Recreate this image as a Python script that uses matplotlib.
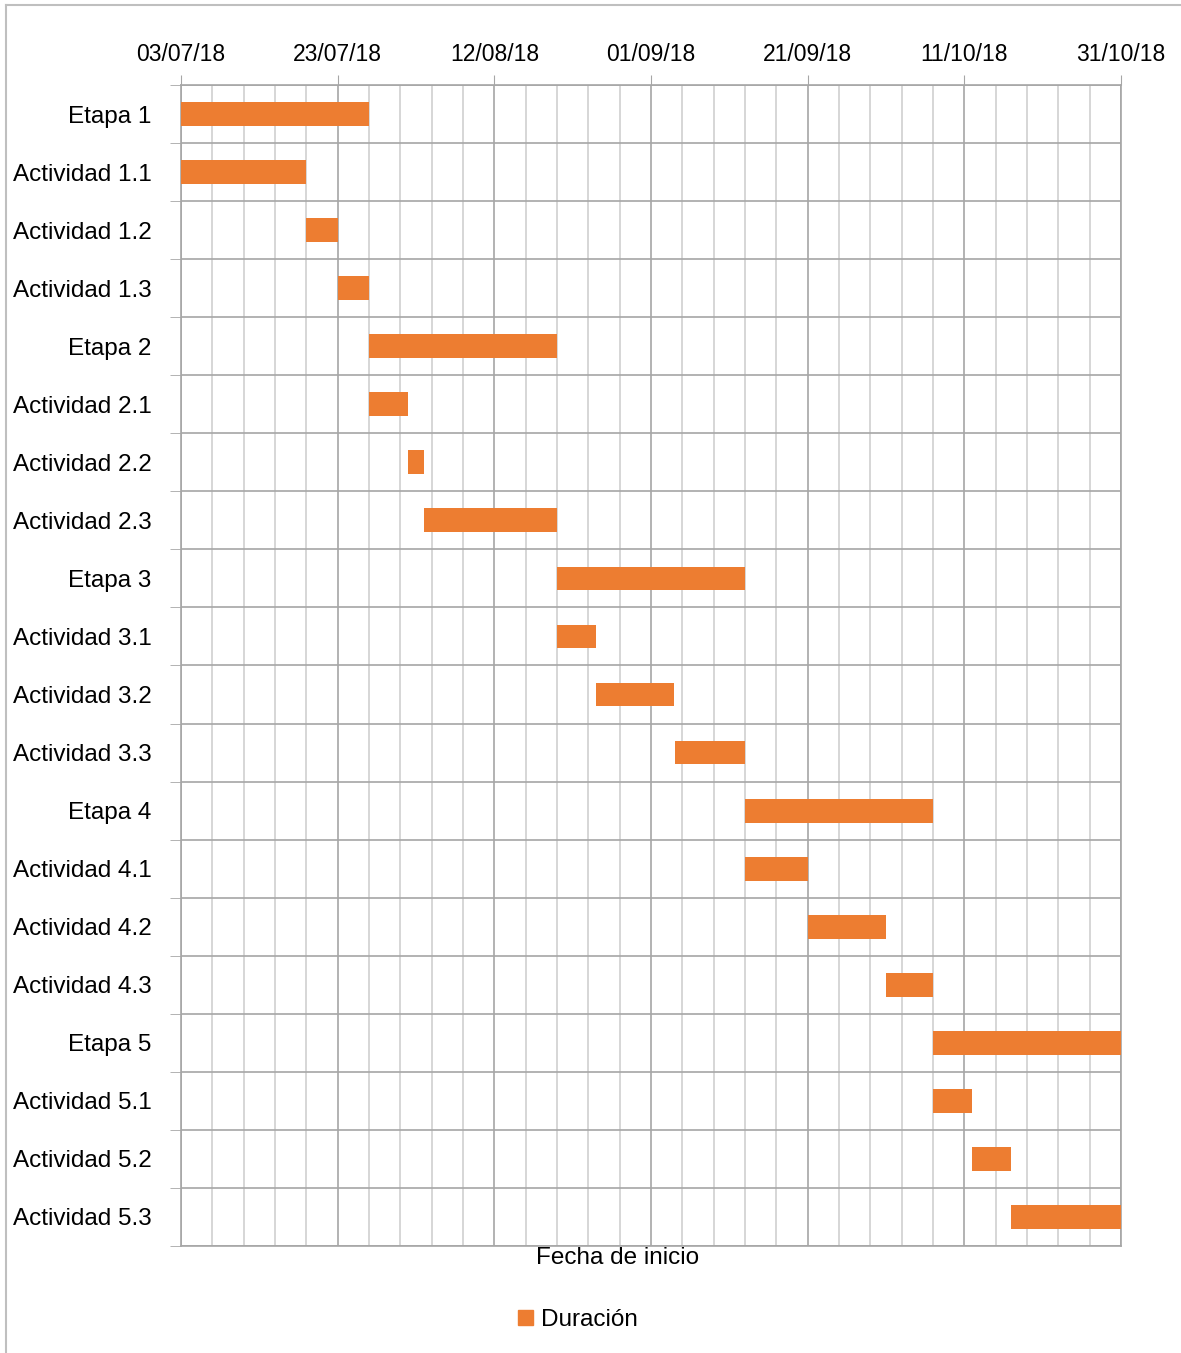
import numpy as np
import pandas as pd
import matplotlib
matplotlib.use('Agg')
import matplotlib.pyplot as plt
import matplotlib.dates as mdates
from matplotlib.patches import Patch
from matplotlib.lines import Line2D

matplotlib.rc('font', family=['Liberation Sans', 'DejaVu Sans'], size=16)

tareas = ['Etapa 1', 'Actividad 1.1', 'Actividad 1.2', 'Actividad 1.3',
          'Etapa 2', 'Actividad 2.1', 'Actividad 2.2', 'Actividad 2.3',
          'Etapa 3', 'Actividad 3.1', 'Actividad 3.2', 'Actividad 3.3',
          'Etapa 4', 'Actividad 4.1', 'Actividad 4.2', 'Actividad 4.3',
          'Etapa 5', 'Actividad 5.1', 'Actividad 5.2', 'Actividad 5.3']
inicio = ['2018-07-03', '2018-07-03', '2018-07-19', '2018-07-23',
          '2018-07-27', '2018-07-27', '2018-08-01', '2018-08-03',
          '2018-08-20', '2018-08-20', '2018-08-25', '2018-09-04',
          '2018-09-13', '2018-09-13', '2018-09-21', '2018-10-01',
          '2018-10-07', '2018-10-07', '2018-10-12', '2018-10-17']
duracion = [24, 16, 4, 4,
            24, 5, 2, 17,
            24, 5, 10, 9,
            24, 8, 10, 6,
            24, 5, 5, 14]

fecha_min = pd.Timestamp('2018-07-03')
fecha_max = pd.Timestamp('2018-10-31')

naranja = '#ED7D31'
gris_mayor = '#a6a6a6'
gris_menor = '#d0d0d0'

fig = plt.figure(figsize=(11.81, 13.53), dpi=100)
ax = fig.add_axes([181 / 1181, 1 - 1246 / 1353, 940 / 1181, 1161 / 1353])

starts = mdates.date2num(pd.to_datetime(inicio))
ys = np.arange(len(tareas))
ax.barh(ys, duracion, left=starts, height=0.41, color=naranja, zorder=3)

ax.set_xlim(mdates.date2num(fecha_min), mdates.date2num(fecha_max))
ax.set_ylim(len(tareas) - 0.5, -0.5)

mayores = pd.date_range(fecha_min, fecha_max, freq='20D')
menores = pd.date_range(fecha_min, fecha_max, freq='4D')
ax.xaxis.set_major_locator(matplotlib.ticker.FixedLocator(mdates.date2num(mayores)))
ax.xaxis.set_minor_locator(matplotlib.ticker.FixedLocator(mdates.date2num(menores)))
ax.xaxis.set_major_formatter(mdates.DateFormatter('%d/%m/%y'))
ax.xaxis.tick_top()
ax.tick_params(axis='x', which='major', length=7, color=gris_mayor, pad=6.5, labelsize=16.5)
ax.tick_params(axis='x', which='minor', length=0)

ax.set_yticks(ys)
ax.set_yticklabels(tareas)
ax.set_yticks(np.arange(len(tareas) + 1) - 0.5, minor=True)
ax.tick_params(axis='y', which='major', length=0, pad=21, labelsize=17.5)
ax.tick_params(axis='y', which='minor', length=8, color=gris_mayor)

ax.grid(True, axis='x', which='minor', color=gris_menor, linewidth=1.2, zorder=0)
ax.grid(True, axis='x', which='major', color=gris_mayor, linewidth=1.2, zorder=1)
ax.grid(True, axis='y', which='minor', color=gris_mayor, linewidth=1.2, zorder=1)
ax.set_axisbelow(True)
for sp in ax.spines.values():
    sp.set_color(gris_mayor)
    sp.set_linewidth(1.2)

fig.text(618 / 1181, 1 - 1258 / 1353, 'Fecha de inicio', ha='center', va='center', fontsize=17.5)

fig.legend(handles=[Patch(color=naranja, label='Duración')], loc='center',
           bbox_to_anchor=(578 / 1181, 1 - 1320 / 1353), frameon=False,
           fontsize=17.5, handlelength=0.6, handleheight=0.6, handletextpad=0.35)

# marco exterior del gráfico
fig.add_artist(Line2D([6 / 1181, 1.0], [1 - 5 / 1353] * 2, color='#bfbfbf', linewidth=1.5))
fig.add_artist(Line2D([6 / 1181] * 2, [0.0, 1 - 5 / 1353], color='#bfbfbf', linewidth=1.5))

plt.savefig('out.png', dpi=100)
